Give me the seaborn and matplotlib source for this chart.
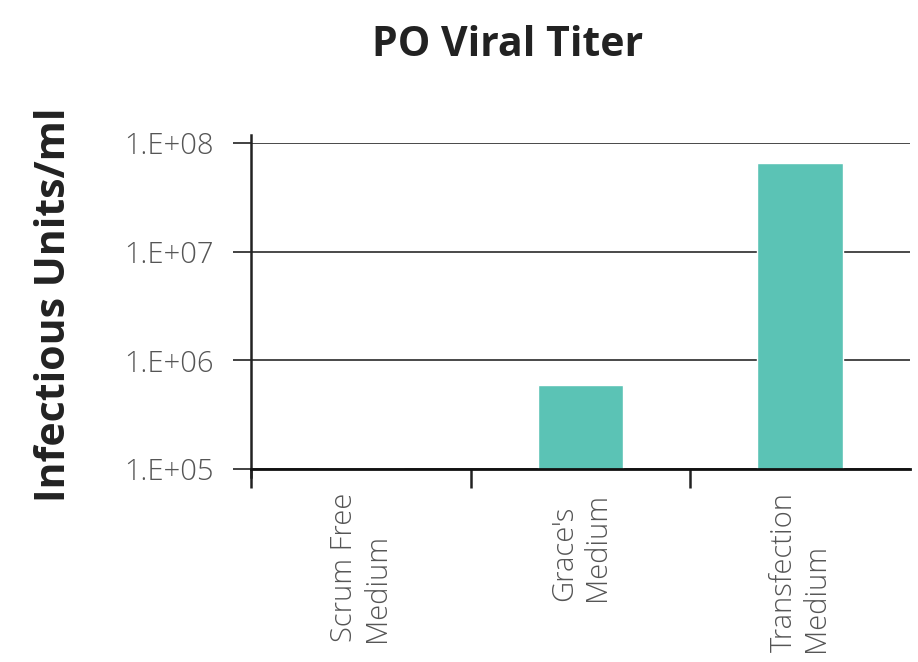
import numpy as np
import matplotlib.pyplot as plt
import pandas as pd
import seaborn as sns
from matplotlib.ticker import NullLocator

# data
media = ["Scrum Free\nMedium", "Grace's\nMedium", "Transfection\nMedium"]
titer = [1.0e5, 5.9e5, 6.6e7]
ytick_vals = [1e5, 1e6, 1e7, 1e8]
ytick_labels = ["1.E+05", "1.E+06", "1.E+07", "1.E+08"]

df = pd.DataFrame({"medium": media, "titer": titer})

sns.set_style("white")
plt.rcParams['font.family'] = ['Open Sans', 'DejaVu Sans']

fig = plt.figure(figsize=(9.18, 6.62), dpi=100)
ax = fig.add_axes([251/918, 1-469/662, (910-251)/918, (469-143)/662])
ax.set_yscale("log")

sns.barplot(data=df, x="medium", y="titer", color="#5bc3b5", saturation=1,
            width=0.39, ax=ax)

ax.set_ylim(1e5, 1e8)
ax.set_xlim(-0.5, len(media) - 0.5)
ax.set_xlabel("")
ax.set_ylabel("")

# y axis
ax.set_yticks(ytick_vals, ytick_labels)
ax.yaxis.set_minor_locator(NullLocator())
ax.tick_params(axis="y", left=True, direction="out", length=13, width=1.3,
               color="#333", pad=14, labelsize=21, labelcolor="#555")
for t in ax.get_yticklabels():
    t.set_fontweight("light")
ax.yaxis.grid(True, color="#3a3a3a", lw=1.3)
ax.set_axisbelow(True)

# x axis: ticks at category boundaries, labels at centres
ax.set_xticks(np.arange(len(media)) - 0.5, [])
ax.set_xticks(np.arange(len(media)), df["medium"], minor=True)
ax.tick_params(axis="x", which="major", bottom=True, direction="out",
               length=14, width=1.8, color="#222")
ax.tick_params(axis="x", which="minor", bottom=True, length=0, pad=17,
               labelsize=21, labelcolor="#555", rotation=90)
for t in ax.get_xticklabels(minor=True):
    t.set_va("top")
    t.set_ha("center")
    t.set_multialignment("left")
    t.set_fontweight("light")
    t.set_linespacing(1.15)

for s in ["top", "right"]:
    ax.spines[s].set_visible(False)
ax.spines["left"].set_bounds(0.844e5, 1.185e8)
ax.spines["left"].set_color("#222")
ax.spines["left"].set_linewidth(1.8)
ax.spines["bottom"].set_color("#111")
ax.spines["bottom"].set_linewidth(2)

fig.text(508/918, 1-45/662, "PO Viral Titer", ha="center", va="center",
         fontsize=29.5, fontweight="bold", color="#222")
fig.text(55/918, 1-305/662, "Infectious Units/ml", rotation=90, ha="center",
         va="center", fontsize=29.5, fontweight="bold", color="#222")

fig.savefig("out.png", dpi=100)
